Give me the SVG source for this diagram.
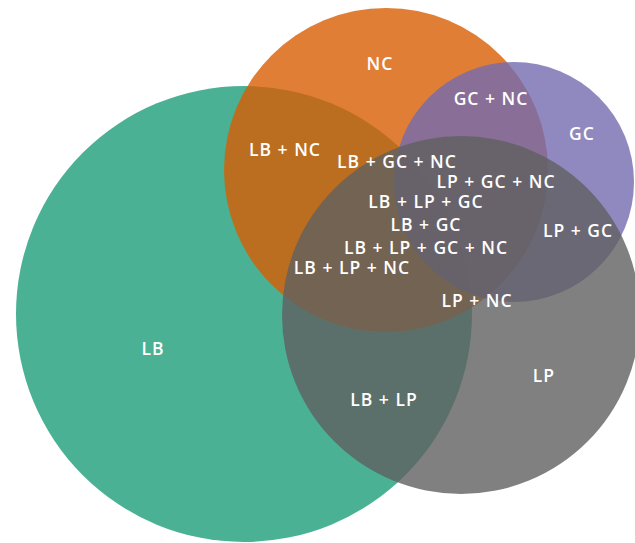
<svg xmlns="http://www.w3.org/2000/svg" width="635" height="543" viewBox="0 0 635 543">
<style>
.set{fill-opacity:0.8}
.lbl{font-family:"Open Sans","DejaVu Sans",sans-serif;font-size:17.5px;font-weight:600;fill:#ffffff;text-anchor:middle;letter-spacing:1px}
</style>
<rect width="635" height="543" fill="#ffffff"/>
<g id="LB"><circle cx="244" cy="314" r="228" fill="#4ab194"/></g>
<g id="NC"><circle class="set" cx="386" cy="170" r="162" fill="#d85e03"/></g>
<g id="GC"><circle class="set" cx="514" cy="182" r="120" fill="#736bb0"/></g>
<g id="LP"><circle class="set" cx="461" cy="315" r="179" fill="#606060"/></g>
<g id="labels">
<text class="lbl" x="380" y="70">NC</text>
<text class="lbl" x="491" y="105">GC + NC</text>
<text class="lbl" x="582" y="140">GC</text>
<text class="lbl" x="285" y="156">LB + NC</text>
<text class="lbl" x="397" y="168">LB + GC + NC</text>
<text class="lbl" x="496" y="188">LP + GC + NC</text>
<text class="lbl" x="426" y="208">LB + LP + GC</text>
<text class="lbl" x="426" y="231">LB + GC</text>
<text class="lbl" x="578" y="237">LP + GC</text>
<text class="lbl" x="426" y="254">LB + LP + GC + NC</text>
<text class="lbl" x="352" y="274">LB + LP + NC</text>
<text class="lbl" x="477" y="307">LP + NC</text>
<text class="lbl" x="153" y="355">LB</text>
<text class="lbl" x="384" y="406">LB + LP</text>
<text class="lbl" x="544" y="382">LP</text>
</g>
</svg>
